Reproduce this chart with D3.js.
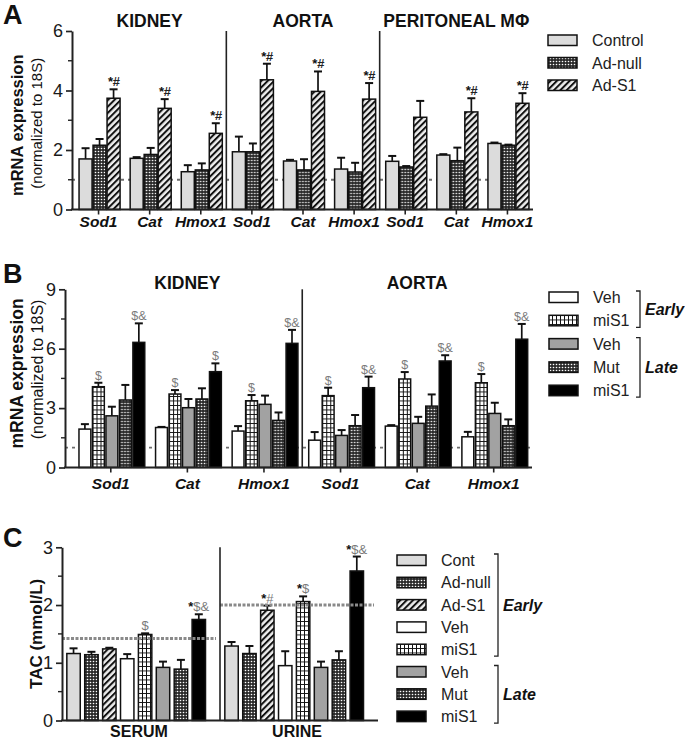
<!DOCTYPE html>
<html>
<head>
<meta charset="utf-8">
<script src="https://cdn.jsdelivr.net/npm/d3@7"></script>
<style>
  body { margin: 0; background: #fff; }
  svg { display: block; font-family: "Liberation Sans", Arial, sans-serif; }
</style>
</head>
<body>
<div id="chart"></div>
<script>
// ---- data ----
const genes = ["Sod1", "Cat", "Hmox1"];

// panel A
const tissuesA = ["KIDNEY", "AORTA", "PERITONEAL MΦ"];
const seriesA = ["cont", "adnull", "ads1"];
const legendA = ["Control", "Ad-null", "Ad-S1"];
const valuesA = [
  [1.70, 2.16, 3.74], [1.72, 1.85, 3.40], [1.27, 1.33, 2.56],
  [1.94, 1.94, 4.36], [1.63, 1.33, 3.97], [1.36, 1.26, 3.71],
  [1.62, 1.43, 3.10], [1.83, 1.64, 3.28], [2.22, 2.16, 3.57]
];
const errorsA = [
  [0.36, 0.21, 0.30], [0.04, 0.22, 0.31], [0.22, 0.22, 0.34],
  [0.51, 0.28, 0.54], [0.04, 0.36, 0.67], [0.38, 0.31, 0.54],
  [0.18, 0.03, 0.55], [0.03, 0.44, 0.46], [0.03, 0.02, 0.34]
];
const notesA = [
  ["", "", "*#"], ["", "", "*#"], ["", "", "*#"],
  ["", "", "*#"], ["", "", "*#"], ["", "", "*#"],
  ["", "", ""], ["", "", "*#"], ["", "", "*#"]
];
const ticksA = [0, 2, 4, 6];

// panel B
const tissuesB = ["KIDNEY", "AORTA"];
const seriesB = ["vehE", "miS1E", "vehL", "mutL", "miS1L"];
const legendB = ["Veh", "miS1", "Veh", "Mut", "miS1"];
const valuesB = [
  [1.94, 4.08, 2.61, 3.41, 6.32], [2.02, 3.71, 3.02, 3.46, 4.84], [1.84, 3.37, 3.19, 2.38, 6.27],
  [1.38, 3.63, 1.62, 2.11, 4.03], [2.09, 4.47, 2.23, 3.10, 5.38], [1.55, 4.28, 2.73, 2.11, 6.48]
];
const errorsB = [
  [0.25, 0.20, 0.46, 0.76, 0.96], [0.03, 0.20, 0.44, 0.54, 0.42], [0.25, 0.29, 0.44, 0.40, 0.68],
  [0.41, 0.40, 0.27, 0.54, 0.56], [0.05, 0.35, 0.33, 0.59, 0.29], [0.25, 0.44, 0.54, 0.32, 0.77]
];
const notesB = [
  ["", "$", "", "", "$&"], ["", "$", "", "", "$"], ["", "$", "", "", "$&"],
  ["", "$", "", "", "$&"], ["", "$", "", "", "$&"], ["", "$", "", "", "$&"]
];
const ticksB = [0, 3, 6, 9];

// panel C
const tissuesC = ["SERUM", "URINE"];
const seriesC = ["cont", "adnull", "ads1", "vehE", "miS1E", "vehL", "mutL", "miS1L"];
const legendC = ["Cont", "Ad-null", "Ad-S1", "Veh", "miS1", "Veh", "Mut", "miS1"];
const valuesC = [
  [1.16, 1.14, 1.24, 1.07, 1.49, 0.92, 0.89, 1.75],
  [1.29, 1.16, 1.91, 0.95, 2.06, 0.92, 1.05, 2.59]
];
const errorsC = [
  [0.09, 0.05, 0.02, 0.08, 0.02, 0.10, 0.16, 0.09],
  [0.07, 0.13, 0.08, 0.25, 0.09, 0.10, 0.15, 0.25]
];
const notesC = [
  ["", "", "", "", "$", "", "", "*$&"],
  ["", "", "*#", "", "*$", "", "", "*$&"]
];
const refC = [1.42, 2.0];
const ticksC = [0, 1, 2, 3];

// ---- drawing ----
const fills = {
  cont: "#dcdcdc", adnull: "url(#dots)", ads1: "url(#hatch)", vehE: "#ffffff",
  miS1E: "url(#grid)", vehL: "#a2a2a2", mutL: "url(#dots)", miS1L: "#000000"
};

const svg = d3.select("#chart").append("svg")
  .attr("width", 685)
  .attr("height", 747);

const defs = svg.append("defs");
const dots = defs.append("pattern").attr("id", "dots")
  .attr("patternUnits", "userSpaceOnUse").attr("width", 3).attr("height", 3);
dots.append("rect").attr("width", 3).attr("height", 3).attr("fill", "#2b2b2b");
dots.append("circle").attr("cx", 1.5).attr("cy", 1.5).attr("r", 0.8).attr("fill", "#fff");

const hatch = defs.append("pattern").attr("id", "hatch")
  .attr("patternUnits", "userSpaceOnUse").attr("width", 4.5).attr("height", 4.5)
  .attr("patternTransform", "rotate(45)");
hatch.append("rect").attr("width", 4.5).attr("height", 4.5).attr("fill", "#eeeeee");
hatch.append("line").attr("x1", 1).attr("x2", 1).attr("y1", 0).attr("y2", 4.5)
  .attr("stroke", "#111").attr("stroke-width", 2);

const grid = defs.append("pattern").attr("id", "grid")
  .attr("patternUnits", "userSpaceOnUse").attr("width", 4).attr("height", 4.5);
grid.append("rect").attr("width", 4).attr("height", 4.5).attr("fill", "#fff");
grid.append("path").attr("d", "M0.5,0V4.5M0,0.5H4")
  .attr("stroke", "#111").attr("stroke-width", 1);

function drawPanel(o) {
  const g = svg.append("g");
  const keys = [];
  o.tissues.forEach(t => o.groupGenes.forEach(n => keys.push(t + "|" + n)));

  const y = d3.scaleLinear().domain(o.yDomain).range(o.yRange);
  const gx = d3.scaleBand().domain(keys).range(o.groupRange);
  const bx = d3.scaleBand().domain(o.series).range([0, gx.bandwidth()])
    .paddingInner(o.padIn).paddingOuter(o.padOut).align(o.align);
  const y0 = y(0);

  // reference line behind bars (A, B)
  if (o.refLine != null) {
    g.append("line")
      .attr("x1", o.axisX).attr("x2", o.groupRange[1])
      .attr("y1", y(o.refLine)).attr("y2", y(o.refLine))
      .attr("stroke", "#6e6e6e").attr("stroke-width", 1.8)
      .attr("stroke-dasharray", "3,4");
  }

  const rows = keys.map((k, i) => ({ key: k, i }));
  const cells = g.selectAll(".grp").data(rows).join("g")
    .attr("transform", d => `translate(${gx(d.key)},0)`);

  const bars = cells.selectAll(".bar")
    .data(d => o.series.map((s, j) => ({
      s, v: o.values[d.i][j], e: o.errors[d.i][j], note: o.notes[d.i][j]
    })))
    .join("g");

  // error bars (upper only)
  bars.append("line")
    .attr("x1", d => bx(d.s) + bx.bandwidth() / 2).attr("x2", d => bx(d.s) + bx.bandwidth() / 2)
    .attr("y1", d => y(d.v)).attr("y2", d => y(d.v + d.e))
    .attr("stroke", "#111").attr("stroke-width", 1.7);
  bars.append("line")
    .attr("x1", d => bx(d.s) + bx.bandwidth() / 2 - 4).attr("x2", d => bx(d.s) + bx.bandwidth() / 2 + 4)
    .attr("y1", d => y(d.v + d.e)).attr("y2", d => y(d.v + d.e))
    .attr("stroke", "#111").attr("stroke-width", 2);

  bars.append("rect")
    .attr("x", d => bx(d.s)).attr("width", bx.bandwidth())
    .attr("y", d => y(d.v)).attr("height", d => y0 - y(d.v))
    .attr("fill", d => fills[d.s])
    .attr("stroke", "#111").attr("stroke-width", 1.5);

  // significance marks
  const notes = bars.filter(d => d.note).append("text")
    .attr("x", d => bx(d.s) + bx.bandwidth() / 2)
    .attr("y", d => y(d.v + d.e) - 3)
    .attr("text-anchor", "middle")
    .style("font-size", o.noteSize + "px")
    .style("font-weight", o.noteWeight)
    .style("font-style", o.noteStyle);
  notes.each(function (d) {
    const t = d3.select(this);
    d.note.split("").forEach(ch => {
      t.append("tspan").text(ch)
        .attr("fill", ch === "*" ? "#111" : o.noteColor)
        .style("font-weight", ch === "*" ? "bold" : null);
    });
  });

  // reference lines on top (C)
  if (o.sectionRefs) {
    o.tissues.forEach((t, i) => {
      const a = gx(t + "|" + o.groupGenes[0]);
      g.append("line")
        .attr("x1", i === 0 ? o.axisX : a).attr("x2", a + gx.bandwidth() - 4)
        .attr("y1", y(o.sectionRefs[i])).attr("y2", y(o.sectionRefs[i]))
        .attr("stroke", "#8a8a8a").attr("stroke-width", 3)
        .attr("stroke-dasharray", "3,1.5");
    });
  }

  // section dividers
  o.tissues.slice(1).forEach(t => {
    const xd = gx(t + "|" + o.groupGenes[0]);
    g.append("line").attr("x1", xd).attr("x2", xd)
      .attr("y1", o.yRange[1]).attr("y2", y0)
      .attr("stroke", "#222").attr("stroke-width", 1.6);
  });

  // y axis
  const ay = g.append("g").attr("transform", `translate(${o.axisX},0)`)
    .call(d3.axisLeft(y).tickValues(o.ticks).tickSize(6).tickSizeOuter(0).tickPadding(3)
      .tickFormat(d3.format("d")));
  ay.select(".domain").attr("stroke", "#222").attr("stroke-width", 2);
  ay.selectAll(".tick line").attr("stroke", "#222").attr("stroke-width", 1.7);
  ay.selectAll(".tick text").style("font-size", "18px").attr("fill", "#1a1a1a")
    .style("font-family", "'Liberation Sans', Arial, sans-serif");
  const minor = d3.range(o.ticks.length - 1).map(i => (o.ticks[i] + o.ticks[i + 1]) / 2);
  g.selectAll(".minor").data(minor).join("line")
    .attr("x1", o.axisX - 4).attr("x2", o.axisX)
    .attr("y1", d => y(d)).attr("y2", d => y(d))
    .attr("stroke", "#222").attr("stroke-width", 1.4);

  // x axis
  g.append("line").attr("x1", o.axisX - 1).attr("x2", o.groupRange[1])
    .attr("y1", y0).attr("y2", y0)
    .attr("stroke", "#222").attr("stroke-width", 2);

  if (o.geneLabels) {
    g.selectAll(".xt").data(keys).join("line")
      .attr("x1", k => gx(k) + gx.bandwidth() / 2).attr("x2", k => gx(k) + gx.bandwidth() / 2)
      .attr("y1", y0).attr("y2", y0 + 5)
      .attr("stroke", "#222").attr("stroke-width", 1.6);
    g.selectAll(".xl").data(keys).join("text")
      .attr("x", k => gx(k) + gx.bandwidth() / 2)
      .attr("y", y0 + o.xLabelDy)
      .attr("text-anchor", "middle")
      .style("font-size", "15.5px").style("font-weight", "bold").style("font-style", "italic")
      .attr("fill", "#111")
      .text(k => k.split("|")[1]);
  }

  // section titles
  o.tissues.forEach(t => {
    const first = gx(t + "|" + o.groupGenes[0]);
    const last = gx(t + "|" + o.groupGenes[o.groupGenes.length - 1]) + gx.bandwidth();
    g.append("text")
      .attr("x", (first + last) / 2 + (o.titleShift || 0))
      .attr("y", o.titleBelow ? y0 + o.titleDy : o.yRange[1] + o.titleDy)
      .attr("text-anchor", "middle")
      .style("font-size", o.titleSize + "px").style("font-weight", "bold")
      .attr("fill", "#111")
      .text(t);
  });

  // y title
  const yc = (o.yRange[0] + o.yRange[1]) / 2;
  o.yTitle.forEach(line => {
    g.append("text")
      .attr("transform", `translate(${line.x},${yc + (line.dy || 0)}) rotate(-90)`)
      .attr("text-anchor", "middle")
      .style("font-size", line.size + "px")
      .style("font-weight", line.bold ? "bold" : "normal")
      .attr("fill", "#111")
      .text(line.text);
  });

  // panel letter
  svg.append("text").attr("x", 3).attr("y", o.letterY)
    .style("font-size", "27px").style("font-weight", "bold").attr("fill", "#111")
    .text(o.letter);
}

function drawLegend(labels, keys, x, yTop, step, brackets) {
  const lg = svg.append("g");
  labels.forEach((lab, i) => {
    const yy = yTop + i * step;
    lg.append("rect").attr("x", x).attr("y", yy).attr("width", 29).attr("height", 10.5)
      .attr("fill", fills[keys[i]]).attr("stroke", "#111").attr("stroke-width", 1.5);
    lg.append("text").attr("x", x + 44).attr("y", yy + 11)
      .style("font-size", "16px").attr("fill", "#222").text(lab);
  });
  (brackets || []).forEach(b => {
    const ya = yTop + b.from * step - 1, yb = yTop + b.to * step + 12;
    lg.append("path")
      .attr("d", `M${b.x - 4},${ya}H${b.x}V${yb}H${b.x - 4}`)
      .attr("fill", "none").attr("stroke", "#222").attr("stroke-width", 1.3);
    lg.append("text").attr("x", b.x + 5).attr("y", (ya + yb) / 2 + 6)
      .style("font-size", "16px").style("font-weight", "bold").style("font-style", "italic")
      .attr("fill", "#111").text(b.label);
  });
}

drawPanel({
  letter: "A", letterY: 24,
  tissues: tissuesA, groupGenes: genes, series: seriesA,
  values: valuesA, errors: errorsA, notes: notesA,
  yDomain: [0, 6], yRange: [209.5, 31], ticks: ticksA,
  axisX: 72, groupRange: [73, 533], padIn: 0.07, padOut: 0.36, align: 0.6,
  refLine: 1, geneLabels: true, xLabelDy: 17,
  titleSize: 17.5, titleDy: -4,
  noteSize: 13, noteWeight: "bold", noteStyle: "italic", noteColor: "#222",
  yTitle: [
    { text: "mRNA expression", x: 23, size: 16.5, bold: true, dy: 5 },
    { text: "(normalized to 18S)", x: 42, size: 15, dy: 3 }
  ]
});

drawPanel({
  letter: "B", letterY: 283,
  tissues: tissuesB, groupGenes: genes, series: seriesB,
  values: valuesB, errors: errorsB, notes: notesB,
  yDomain: [0, 9], yRange: [467.5, 289.3], ticks: ticksB,
  axisX: 65, groupRange: [72.5, 532], padIn: 0.12, padOut: 0.4, align: 0.6,
  refLine: 1, geneLabels: true, xLabelDy: 21,
  titleSize: 17.5, titleDy: 0,
  noteSize: 12.5, noteWeight: "normal", noteStyle: "normal", noteColor: "#7a7a7a",
  yTitle: [
    { text: "mRNA expression", x: 23, size: 17.5, bold: true, dy: -5 },
    { text: "(normalized to 18S)", x: 43, size: 16, dy: -9 }
  ]
});

drawPanel({
  letter: "C", letterY: 547,
  tissues: tissuesC, groupGenes: [""], series: seriesC,
  values: valuesC, errors: errorsC, notes: notesC,
  yDomain: [0, 3], yRange: [720.5, 547.3], ticks: ticksC,
  axisX: 62, groupRange: [62, 378], padIn: 0.25, padOut: 0.54, align: 0.25,
  sectionRefs: refC, geneLabels: false,
  titleSize: 16, titleDy: 16, titleBelow: true, titleShift: -2,
  noteSize: 13, noteWeight: "normal", noteStyle: "normal", noteColor: "#7a7a7a",
  yTitle: [
    { text: "TAC (mmol/L)", x: 42, size: 17, bold: true, dy: 0 }
  ]
});

drawLegend(legendA, seriesA, 548, 35, 22.5);
drawLegend(legendB, seriesB, 549, 292, 23.3, [
  { from: 0, to: 1, x: 640, label: "Early" },
  { from: 2, to: 4, x: 640, label: "Late" }
]);
drawLegend(legendC, seriesC, 397, 555, 22.3, [
  { from: 0, to: 4, x: 498, label: "Early" },
  { from: 5, to: 7, x: 498, label: "Late" }
]);
</script>
</body>
</html>
